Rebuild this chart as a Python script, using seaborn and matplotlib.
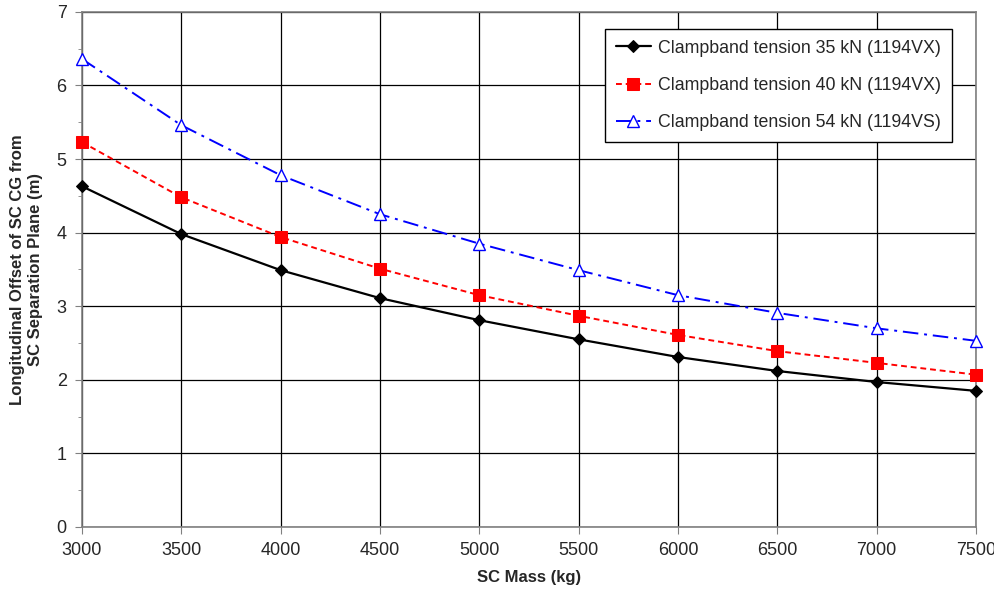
import pandas as pd
import matplotlib
matplotlib.use("Agg")
import matplotlib.pyplot as plt
import seaborn as sns

# SC mass (kg) and longitudinal CG offset (m) per clampband tension
mass = [3000, 3500, 4000, 4500, 5000, 5500, 6000, 6500, 7000, 7500]
tension_35 = [4.63, 3.98, 3.49, 3.11, 2.81, 2.55, 2.31, 2.12, 1.97, 1.85]
tension_40 = [5.23, 4.48, 3.94, 3.51, 3.15, 2.87, 2.61, 2.39, 2.23, 2.07]
tension_54 = [6.36, 5.46, 4.78, 4.25, 3.85, 3.49, 3.15, 2.91, 2.70, 2.53]
labels = ["Clampband tension 35 kN (1194VX)",
          "Clampband tension 40 kN (1194VX)",
          "Clampband tension 54 kN (1194VS)"]

sns.set_style("white")
plt.rcParams["font.family"] = ["Liberation Sans", "DejaVu Sans"]

fig = plt.figure(figsize=(9.95, 5.94), dpi=100)
ax = fig.add_axes([0.0824, 0.1128, 0.8985, 0.8672])

sns.lineplot(x=mass, y=tension_35, ax=ax, color="black", lw=1.6, marker="D",
             markersize=6, markeredgecolor="black", label=labels[0], clip_on=False, zorder=5)
sns.lineplot(x=mass, y=tension_40, ax=ax, color="red", lw=1.4, marker="s",
             markersize=8, markeredgecolor="red", label=labels[1], clip_on=False, zorder=5)
sns.lineplot(x=mass, y=tension_54, ax=ax, color="blue", lw=1.4, marker="^",
             markersize=8, markerfacecolor="white", markeredgecolor="blue",
             markeredgewidth=1.0, label=labels[2], clip_on=False, zorder=5)
ax.lines[1].set_dashes([3, 2])
ax.lines[2].set_dashes([8, 3, 1.5, 3])

ax.set_xlim(3000, 7500)
ax.set_ylim(0, 7)
ax.set_xticks(range(3000, 7501, 500))
ax.set_yticks(range(0, 8))
ax.set_yticks([i + 0.5 for i in range(7)], minor=True)
ax.grid(True, which="major", color="black", lw=0.9)
for s in ax.spines.values():
    s.set_color("#808080")
    s.set_linewidth(1.2)
ax.tick_params(axis="both", which="major", labelsize=13, length=5, color="#808080",
               direction="out", left=True, bottom=True, pad=6)
ax.tick_params(axis="y", which="minor", length=3, color="#808080", left=True)

ax.set_xlabel("SC Mass (kg)", fontsize=12, fontweight="bold", labelpad=8)
ax.set_ylabel("Longitudinal Offset of SC CG from\nSC Separation Plane (m)",
              fontsize=12, fontweight="bold", labelpad=10)

leg = ax.legend(loc="upper right", bbox_to_anchor=(0.973, 0.967), fontsize=12.8,
                frameon=True, fancybox=False, edgecolor="black", framealpha=1,
                handlelength=2.0, handletextpad=0.4, labelspacing=1.15,
                borderpad=0.6, borderaxespad=0)
leg.get_frame().set_linewidth(1.0)
leg.set_zorder(10)

fig.savefig("out.png", dpi=100)
